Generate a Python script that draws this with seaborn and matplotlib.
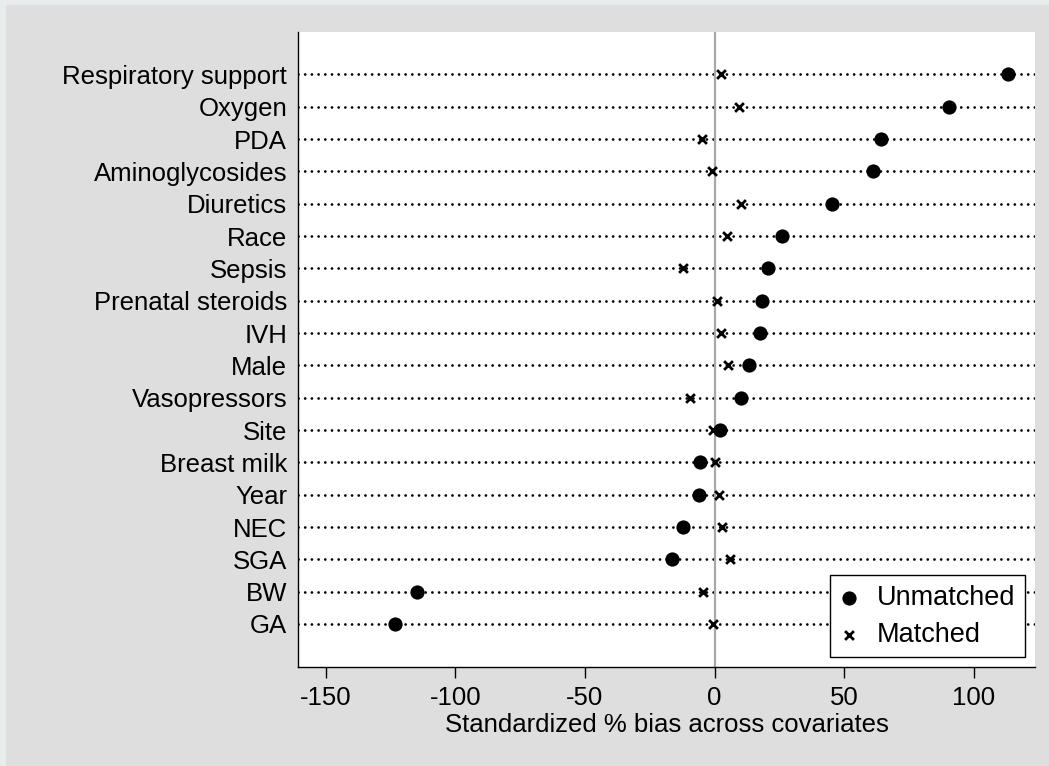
import pandas as pd
import matplotlib
matplotlib.use('Agg')
import matplotlib.pyplot as plt
import seaborn as sns
from matplotlib.patches import Rectangle

# covariates, top to bottom
covariates = ['Respiratory support', 'Oxygen', 'PDA', 'Aminoglycosides', 'Diuretics',
              'Race', 'Sepsis', 'Prenatal steroids', 'IVH', 'Male', 'Vasopressors',
              'Site', 'Breast milk', 'Year', 'NEC', 'SGA', 'BW', 'GA']

# standardized % bias
unmatched = [113.1, 90.5, 64.2, 60.9, 45.2, 26.1, 20.7, 18.2, 17.6, 13.3, 10.0,
             2.0, -5.5, -5.9, -12.3, -16.3, -114.9, -123.4]
matched = [2.4, 9.5, -4.9, -1.0, 10.1, 4.6, -12.3, 0.8, 2.4, 5.0, -9.5,
           -0.8, 0.3, 1.5, 2.9, 5.9, -4.4, -0.8]

xticks = [-150, -100, -50, 0, 50, 100]

df = pd.DataFrame({'covariate': covariates, 'Unmatched': unmatched, 'Matched': matched})

sns.set_style('white')
plt.rcParams['font.family'] = ['Liberation Sans', 'DejaVu Sans']
plt.rcParams['axes.unicode_minus'] = False
plt.rcParams['text.color'] = 'black'
plt.rcParams['axes.labelcolor'] = 'black'
plt.rcParams['xtick.color'] = 'black'
plt.rcParams['ytick.color'] = 'black'

fig = plt.figure(figsize=(10.49, 7.66), dpi=100, facecolor='#e8eced')
fig.patches.append(Rectangle((6 / 1049, 0), 1, 1 - 5 / 766, transform=fig.transFigure,
                             facecolor='#dedede', edgecolor='none', zorder=-10))
ax = fig.add_axes([298.3 / 1049, 1 - 667 / 766, (1035 - 298.3) / 1049, (667 - 32) / 766])
ax.set_facecolor('white')

# dotted row guides and zero reference line
ax.set_axisbelow(True)
ax.yaxis.grid(True, color='black', linewidth=2.0, linestyle=(0, (0.01, 2.4)),
              dash_capstyle='round')
ax.axvline(0, color='#a8a8a8', linewidth=1.6, zorder=1)

sns.scatterplot(data=df, x='Unmatched', y='covariate', ax=ax, marker='o', s=105,
                color='black', edgecolor='black', linewidth=0, label='Unmatched', zorder=3)
sns.scatterplot(data=df, x='Matched', y='covariate', ax=ax, marker='x', s=40,
                color='black', linewidth=2.0, label='Matched', zorder=3)

ax.set_ylim(17 + 1.33, -1.31)
ax.set_xlim(-160.5, 123.5)
ax.set_xticks(xticks)
ax.set_xticklabels([str(t) for t in xticks])

for side in ['top', 'right']:
    ax.spines[side].set_visible(False)
for side in ['left', 'bottom']:
    ax.spines[side].set_color('black')
    ax.spines[side].set_linewidth(1.0)

ax.tick_params(axis='y', length=0, pad=8, labelsize=18.5)
ax.tick_params(axis='x', length=8, width=1, color='black', direction='out',
               pad=6, labelsize=18.5, bottom=True)
ax.set_ylabel('')
ax.set_xlabel('Standardized % bias across covariates', fontsize=18.5, labelpad=2)

leg = ax.legend(loc='lower right', bbox_to_anchor=(0.9865, 0.0153), borderaxespad=0,
                fontsize=19.5, frameon=True, fancybox=False, edgecolor='black',
                framealpha=1, handlelength=0.7, handletextpad=0.7, labelspacing=0.4,
                borderpad=0.35)
leg.get_frame().set_linewidth(1.0)

fig.savefig('out.png', dpi=100, facecolor=fig.get_facecolor())
